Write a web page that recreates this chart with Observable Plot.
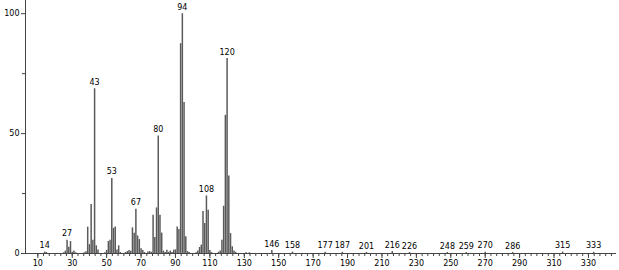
<!DOCTYPE html>
<html>
<head>
<meta charset="utf-8">
<script src="https://cdn.jsdelivr.net/npm/d3@7"></script>
<script src="https://cdn.jsdelivr.net/npm/@observablehq/plot@0.6"></script>
<style>
  html, body { margin: 0; padding: 0; background: #fff; }
  svg { display: block; }
</style>
</head>
<body>
<div id="chart"></div>
<script>
// m/z values and relative intensities (%)
const masses = [14,15,25,26,27,28,29,30,31,32,37,38,39,40,41,42,43,44,45,49,50,51,52,53,54,55,56,57,58,61,62,63,64,65,66,67,68,69,70,71,72,74,75,76,77,78,79,80,81,82,83,84,85,86,87,88,89,90,91,92,93,94,95,96,97,98,102,103,104,105,106,107,108,109,110,111,115,116,117,118,119,120,121,122,123,124,125,131,133,146,158,177,187,201,216,226,248,259,270,286,315,333];
const intensities = [0.6,0.4,0.3,1.0,5.5,2.6,5.0,0.5,1.0,0.3,0.3,0.7,11,3.7,20.4,5.5,68.7,3.2,1.5,0.3,1.3,5.0,5.5,31.3,10.5,11,1.5,3.2,0.4,0.4,0.8,1.3,0.9,10.7,8.4,18.5,7.3,5.8,2,1.2,0.4,0.6,0.8,0.5,16,6.7,19,49,16,8.5,1,0.4,1.4,0.5,1,0.4,1.4,1.5,11,10,87.5,100,63,7,0.8,0.4,0.3,1,2.5,3.5,17.5,12.5,24,18,1.2,0.4,0.5,1,5.5,19.7,57.6,81.3,32.3,8.3,2.8,1,0.5,0.3,0.3,1.2,0.6,0.5,0.5,0.4,0.8,0.4,0.4,0.4,0.5,0.4,0.6,0.5];
const labelMasses = [14,27,43,53,67,80,94,108,120,146,158,177,187,201,216,226,248,259,270,286,315,333];
const xTickLabels = [10,30,50,70,90,110,130,150,170,190,210,230,250,270,290,310,330];
const yTickLabels = [0,50,100];
const yMinorTicks = [25,75];
const xDomain = [2.85, 346.3];
const yDomain = [0, 105.5];

const peaks = masses.map((m, i) => ({m, v: intensities[i]}));
const lookup = new Map(peaks.map(d => [d.m, d.v]));
const labels = labelMasses.map(m => ({m, v: lookup.get(m) ?? 0}));
const xMinorTicks = d3.range(10, 346, 10 / 3);

const font = "DejaVu Sans";
const chart = Plot.plot({
  width: 619,
  height: 270,
  marginLeft: 25,
  marginRight: 3,
  marginTop: 0,
  marginBottom: 17,
  style: {fontFamily: font, fontSize: "8px", color: "#000", background: "#fff"},
  x: {domain: xDomain, label: null},
  y: {domain: yDomain, label: null},
  marks: [
    Plot.ruleX(peaks, {x: "m", y1: 0, y2: "v", stroke: "#5a5a5a", strokeWidth: 1.5}),
    Plot.ruleY([yDomain[0]], {stroke: "#444", strokeWidth: 1}),
    Plot.ruleX([xDomain[0]], {stroke: "#444", strokeWidth: 1}),
    Plot.axisX(xMinorTicks, {tickSize: 3, text: null, label: null, stroke: "#444"}),
    Plot.axisX(xTickLabels, {tickSize: 5, tickPadding: 2, label: null, stroke: "#444", fill: "#000", fontSize: 8, tickFormat: d => d}),
    Plot.axisY(yMinorTicks, {tickSize: 3, text: null, label: null, stroke: "#444"}),
    Plot.axisY(yTickLabels, {tickSize: 4, tickPadding: 2, label: null, stroke: "#444", fill: "#000", fontSize: 8, tickFormat: d => d}),
    Plot.text(labels, {x: "m", y: "v", text: d => String(d.m), lineAnchor: "bottom", dy: -4, fontSize: 8, fill: "#000"})
  ]
});
document.getElementById("chart").appendChild(chart);
</script>
</body>
</html>
